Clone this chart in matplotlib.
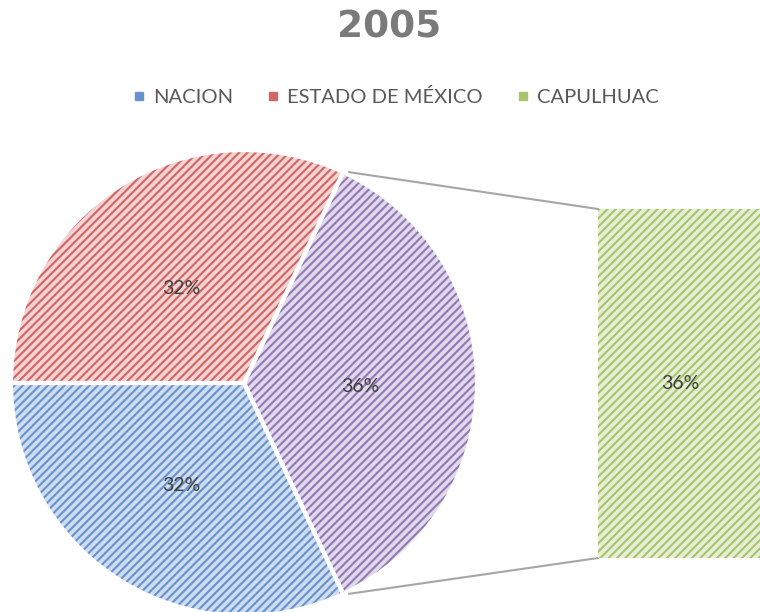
import matplotlib
matplotlib.use('Agg')
import matplotlib.pyplot as plt
import numpy as np

# ---- data ----
categories = ['NACION', 'ESTADO DE MÉXICO', 'CAPULHUAC']
shares = [0.32, 0.32, 0.36]          # share of each category
title = '2005'

fills   = ['#cedcf0', '#f4d2d2', '#e6efd5']
hatches = ['#6892cc', '#cf6664', '#a6c56c']
other_fill, other_hatch = '#e0d8eb', '#9378b6'   # "other" slice that feeds the bar

plt.rcParams['font.family'] = ['Lato', 'DejaVu Sans']
plt.rcParams['hatch.linewidth'] = 1.5

fig = plt.figure(figsize=(7.6, 6.12), dpi=100)
ax = fig.add_axes([0, 0, 1, 1])

# pie: the last category is pulled out into the bar, shown as an "other" slice
pie_vals = [shares[2], shares[1], shares[0]]
pie_fill = [other_fill, fills[1], fills[0]]
pie_hatch = [other_hatch, hatches[1], hatches[0]]
center, radius = (244, 229), 233
start = -shares[2] * 360 / 2

wedges, _ = ax.pie(pie_vals, center=center, radius=radius, startangle=start,
                   counterclock=True, frame=True)
for w, fc, hc in zip(wedges, pie_fill, pie_hatch):
    w.set_facecolor(fc)
    w.set_edgecolor(hc)
    w.set_hatch('////')
    w.set_linewidth(0)
# white separators on top
ax.pie(pie_vals, center=center, radius=radius, startangle=start,
       counterclock=True, frame=True,
       wedgeprops=dict(fill=False, edgecolor='white', linewidth=3))
ax.set_xlim(0, 760)
ax.set_ylim(0, 612)
ax.set_aspect('equal')
ax.axis('off')

# percentage labels inside the pie
for w, v in zip(wedges, pie_vals):
    ang = np.deg2rad((w.theta1 + w.theta2) / 2)
    r = radius * 0.5
    ax.text(center[0] + r * np.cos(ang), center[1] + r * np.sin(ang) - 4,
            f'{v*100:.0f}%', ha='center', va='center', fontsize=14, color='#404040')

# bar of the "other" slice
bar_l, bar_r, bar_b, bar_t = 598, 763, 54, 403
axb = fig.add_axes([bar_l / 760, bar_b / 612, (bar_r - bar_l) / 760, (bar_t - bar_b) / 612])
axb.bar([0], [shares[2]], width=1, color=fills[2], edgecolor=hatches[2],
        hatch='////', linewidth=0)
axb.set_xlim(-0.5, 0.5)
axb.set_ylim(0, shares[2])
axb.axis('off')
axb.text(0, shares[2] / 2, f'{shares[2]*100:.0f}%', ha='center', va='center',
         fontsize=14, color='#404040')

# connector lines from the "other" slice to the bar
a1 = np.deg2rad(start + shares[2] * 360)
a0 = np.deg2rad(start)
ax.plot([center[0] + radius * np.cos(a1) + 6, bar_l], [center[1] + radius * np.sin(a1), bar_t],
        color='#a6a6a6', lw=1.5)
ax.plot([center[0] + radius * np.cos(a0) + 6, bar_l], [center[1] + radius * np.sin(a0), bar_b],
        color='#a6a6a6', lw=1.5)

# title and legend
fig.text(389 / 760, 1 - 28 / 612, title, ha='center', va='center', fontsize=27,
         fontweight='bold', color='#7a7a7a', family='DejaVu Sans')
handles = [plt.Line2D([], [], marker='s', ls='', markersize=6, markerfacecolor=h,
                      markeredgecolor=h) for h in hatches]
fig.legend(handles, categories, loc='center', bbox_to_anchor=(395 / 760, 1 - 97 / 612),
           ncol=3, frameon=False, fontsize=14.5, handlelength=0.8, handletextpad=0.3,
           columnspacing=1.6, labelcolor='#595959')

fig.savefig('out.png', dpi=100)
